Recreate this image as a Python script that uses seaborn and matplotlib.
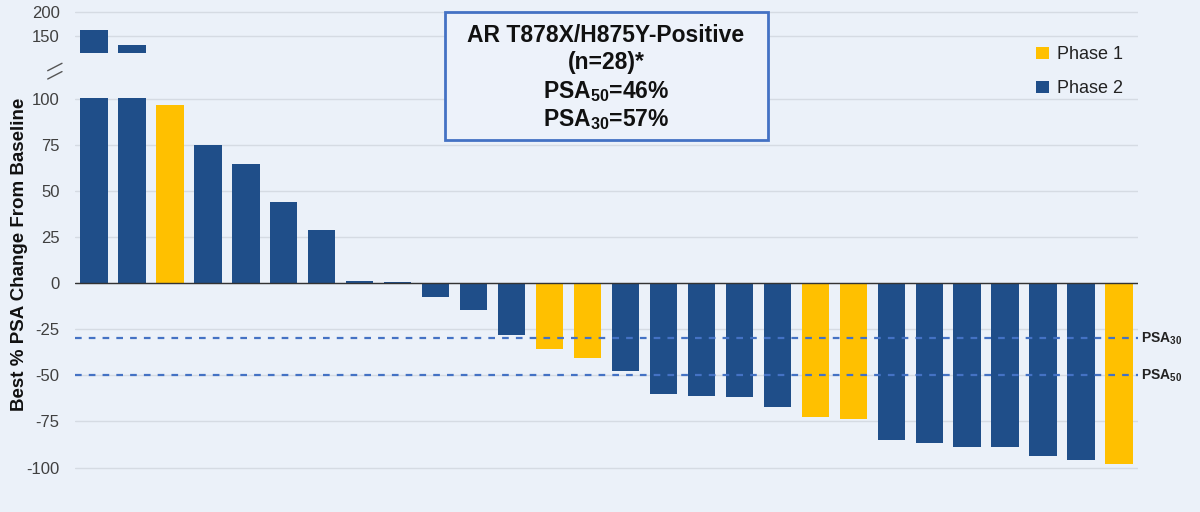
import matplotlib
matplotlib.use("Agg")
import matplotlib.pyplot as plt
import seaborn as sns
import pandas as pd
from matplotlib.patches import Rectangle
from matplotlib.lines import Line2D

# ---- data ----
patients = [str(i) for i in range(1, 29)]
psa_change = [164, 131, 96.4, 75, 64.3, 43.7, 29, 0.9, 0.3, -7.6, -14.6, -28,
              -36, -40.6, -47.5, -60, -61, -62, -67, -72.5, -73.9, -85, -86.7,
              -89, -89, -94, -96, -98]
phase = ["Phase 2", "Phase 2", "Phase 1", "Phase 2", "Phase 2", "Phase 2", "Phase 2",
         "Phase 2", "Phase 2", "Phase 2", "Phase 2", "Phase 2", "Phase 1", "Phase 1",
         "Phase 2", "Phase 2", "Phase 2", "Phase 2", "Phase 2", "Phase 1", "Phase 1",
         "Phase 2", "Phase 2", "Phase 2", "Phase 2", "Phase 2", "Phase 2", "Phase 1"]
lower_ticks = [-100, -75, -50, -25, 0, 25, 50, 75, 100]
upper_ticks = [150, 200]
thresholds = [-30, -50]
threshold_labels = [r"PSA$_{\mathbf{30}}$", r"PSA$_{\mathbf{50}}$"]
box_lines = ["AR T878X/H875Y-Positive", "(n=28)*",
             r"PSA$_{\mathbf{50}}$=46%", r"PSA$_{\mathbf{30}}$=57%"]

df = pd.DataFrame({"patient": patients, "change": psa_change, "phase": phase})

BG = "#EBF1F9"
NAVY = "#1F4E89"
GOLD = "#FFC000"
palette = {"Phase 1": GOLD, "Phase 2": NAVY}

sns.set_theme(style="white")
plt.rcParams["font.family"] = ["Liberation Sans", "DejaVu Sans"]
plt.rcParams["mathtext.fontset"] = "custom"
plt.rcParams["mathtext.rm"] = "Liberation Sans"
plt.rcParams["mathtext.bf"] = "Liberation Sans:bold"
plt.rcParams["mathtext.default"] = "bf"

fig = plt.figure(figsize=(12, 5.12), dpi=100, facecolor=BG)
left, width = 75 / 1200, (1138 - 75) / 1200
ax = fig.add_axes([left, 1 - 486 / 512, width, (486 - 98) / 512])
ax_top = fig.add_axes([left, 1 - 52.7 / 512, width, (52.7 - 5) / 512], sharex=ax)
ax_top.patch.set_visible(False)
ax.set_facecolor(BG)

for a in (ax, ax_top):
    sns.barplot(data=df, x="patient", y="change", hue="phase", order=patients,
                hue_order=["Phase 1", "Phase 2"], palette=palette, dodge=False,
                width=0.72, saturation=1, linewidth=0, ax=a,
                legend=(a is ax), zorder=3)
    for s in a.spines.values():
        s.set_visible(False)
    a.set_xlabel("")
    a.set_ylabel("")
    a.tick_params(axis="x", bottom=False, labelbottom=False)
    a.tick_params(axis="y", left=False, length=0, labelsize=12,
                  labelcolor="#404040", pad=11)
    a.grid(axis="y", color="#D5DBE3", lw=1)
    a.set_axisbelow(True)
    a.set_xlim(-0.5, 27.5)

ax.set_ylim(-110, 100.3)
ax.set_yticks(lower_ticks)
ax.set_yticklabels([str(t) for t in lower_ticks])
ax_top.set_ylim(116, 215)
ax_top.set_yticks(upper_ticks)
ax_top.set_yticklabels([str(t) for t in upper_ticks])

ax.axhline(0, color="#333333", lw=1, zorder=4)
for t, lab in zip(thresholds, threshold_labels):
    ax.axhline(t, color="#4472C4", lw=1.6, ls=(0, (3, 3.2)), zorder=5)
    ax.text(1.003, t, lab, transform=ax.get_yaxis_transform(), ha="left",
            va="center", fontsize=10, fontweight="bold", color="#222222")

# legend
leg = ax.legend(loc="upper left", bbox_to_anchor=(1020 / 1200, 1 - 30 / 512),
                bbox_transform=fig.transFigure, frameon=False, fontsize=13,
                handlelength=0.7, handleheight=0.7, labelspacing=0.95,
                handletextpad=0.45)
for txt in leg.get_texts():
    txt.set_color("#222222")

# y label
fig.text(20 / 1200, 1 - 254 / 512, "Best % PSA Change From Baseline", rotation=90,
         ha="center", va="center", fontsize=13.5, fontweight="bold", color="#111111")

# axis break marks
for y0 in (70.7, 79):
    fig.add_artist(Line2D([47.7 / 1200, 62 / 1200],
                          [1 - y0 / 512, 1 - (y0 - 7.4) / 512],
                          color="#555555", lw=1, transform=fig.transFigure))

# annotation box
box = Rectangle((445 / 1200, 1 - 140 / 512), (768 - 445) / 1200, (140 - 12) / 512,
                transform=fig.transFigure, facecolor="#EDF2FA", edgecolor="#4472C4",
                lw=2, zorder=10)
fig.add_artist(box)
for yy, line in zip([35, 63, 92, 120], box_lines):
    fig.text(606 / 1200, 1 - yy / 512, line, ha="center", va="center", fontsize=16.5,
             fontweight="bold", color="#111111", zorder=11)

fig.savefig("out.png", dpi=100, facecolor=BG)
